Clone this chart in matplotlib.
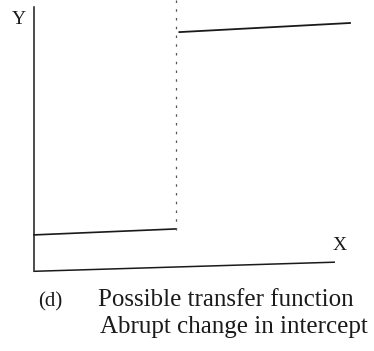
import matplotlib
matplotlib.use("Agg")
import matplotlib.pyplot as plt

# Data (axis units 0..100)
y_axis_x = [0, 0]
y_axis_y = [0, 101]
x_axis_x = [0, 95]
x_axis_y = [-0.5, 3]
low_x = [0, 45]
low_y = [13.5, 15.8]
high_x = [46, 100]
high_y = [91.5, 95]
break_x = [45, 45]
break_y = [15.4, 104]
axis_labels = ["Y", "X"]
caption_tag = "(d)"
caption_lines = ["Possible transfer function", "Abrupt change in intercept"]

fig = plt.figure(figsize=(3.74, 3.51), dpi=100)
fig.patch.set_facecolor("white")
ax = fig.add_axes([34/374, (351-270)/351, (350-34)/374, 260/351])
ax.set_xlim(0, 100)
ax.set_ylim(0, 100)
ax.axis("off")

col = "#1a1a1a"
ax.plot(y_axis_x, y_axis_y, color=col, lw=1.1, clip_on=False)
ax.plot(x_axis_x, x_axis_y, color=col, lw=1.1, clip_on=False)
ax.plot(low_x, low_y, color=col, lw=1.2, clip_on=False)
ax.plot(high_x, high_y, color=col, lw=1.3, clip_on=False)
ax.plot(break_x, break_y, color="#555555", lw=0.9, ls=(0, (2, 5)), clip_on=False)

fam = ["Liberation Serif", "DejaVu Serif"]
ax.text(-2.5, 96.5, axis_labels[0], fontsize=14, family=fam, ha="right", va="center", color=col)
ax.text(94.5, 9.5, axis_labels[1], fontsize=14, family=fam, ha="left", va="center", color=col)

fig.text(38/374, 1 - 306/351, caption_tag, fontsize=15, family=fam, ha="left", va="baseline", color=col)
fig.text(98/374, 1 - 306/351, caption_lines[0], fontsize=18, family=fam, ha="left", va="baseline", color=col)
fig.text(100/374, 1 - 333/351, caption_lines[1], fontsize=18, family=fam, ha="left", va="baseline", color=col)

fig.savefig("out.png", dpi=100, facecolor="white")
